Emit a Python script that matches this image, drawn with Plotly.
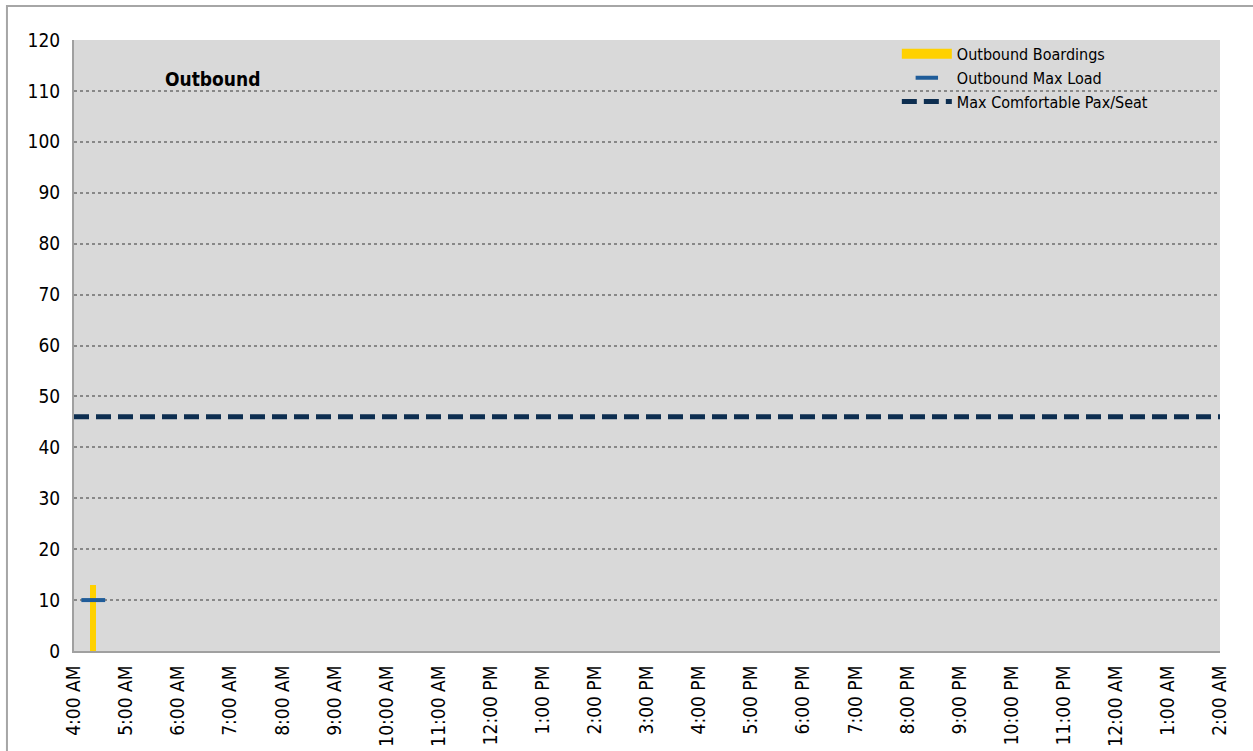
import plotly.graph_objects as go

# Data
tick_hours = list(range(4, 27))
tick_labels = ["4:00 AM", "5:00 AM", "6:00 AM", "7:00 AM", "8:00 AM", "9:00 AM", "10:00 AM",
               "11:00 AM", "12:00 PM", "1:00 PM", "2:00 PM", "3:00 PM", "4:00 PM", "5:00 PM",
               "6:00 PM", "7:00 PM", "8:00 PM", "9:00 PM", "10:00 PM", "11:00 PM", "12:00 AM",
               "1:00 AM", "2:00 AM"]
trip_times = [4.37]
boardings = [13]
max_load = [10]
max_comfortable = 46
x_start, x_end = 4, 26

FONT = "DejaVu Sans Condensed, Liberation Sans Narrow, sans-serif"
YELLOW = "#FFD100"
BLUE = "#1F5C99"
NAVY = "#0D2E50"

fig = go.Figure()
fig.add_trace(go.Bar(
    x=trip_times, y=boardings, width=0.11, name="Outbound Boardings", showlegend=False,
    marker=dict(color=YELLOW, line=dict(width=0)),
))
# legend entry for boardings (wide yellow swatch)
fig.add_trace(go.Scatter(
    x=[None], y=[None], mode="lines", name="Outbound Boardings",
    line=dict(color=YELLOW, width=13),
))
fig.add_trace(go.Scatter(
    x=trip_times, y=max_load, mode="markers", name="Outbound Max Load",
    marker=dict(symbol="line-ew", size=17, color=BLUE, line=dict(width=4, color=BLUE)),
))
fig.add_trace(go.Scatter(
    x=[x_start, x_end], y=[max_comfortable, max_comfortable], mode="lines",
    name="Max Comfortable Pax/Seat",
    line=dict(color=NAVY, width=5, dash="15px,7px"),
))

fig.update_layout(
    width=1253, height=751,
    margin=dict(l=74, r=33, t=40, b=100, autoexpand=False),
    paper_bgcolor="white",
    plot_bgcolor="#D9D9D9",
    font=dict(family=FONT, size=19, color="black"),
    showlegend=True,
    legend=dict(x=0.718, y=1.005, xanchor="left", yanchor="top", bgcolor="rgba(0,0,0,0)",
                font=dict(size=16), tracegroupgap=0, itemwidth=50),
    bargap=0,
)
fig.update_xaxes(
    range=[x_start, x_end], tickmode="array", tickvals=tick_hours, ticktext=tick_labels,
    tickangle=-90, showgrid=False, showline=True, linecolor="#A0A0A0", linewidth=2,
    ticks="", zeroline=False, tickfont=dict(size=19), ticklabelstandoff=5, automargin=False,
)
fig.update_yaxes(
    range=[0, 120], dtick=10, showgrid=True, gridcolor="#888888", griddash="dot", gridwidth=1.5,
    showline=True, linecolor="#A0A0A0", linewidth=2, ticks="", zeroline=False,
    tickfont=dict(size=19), ticklabelstandoff=8, automargin=False,
)
fig.add_annotation(x=0.121, y=0.936, xref="paper", yref="paper", text="<b>Outbound</b>",
                   xanchor="center", yanchor="middle",
                   showarrow=False, font=dict(size=19, family=FONT))
fig.add_shape(type="rect", xref="paper", yref="paper", x0=-0.0585, y0=-0.3, x1=1.1, y1=1.0556,
              line=dict(color="#A6A6A6", width=2), fillcolor="rgba(0,0,0,0)", layer="below")

fig.write_html("out.html")
